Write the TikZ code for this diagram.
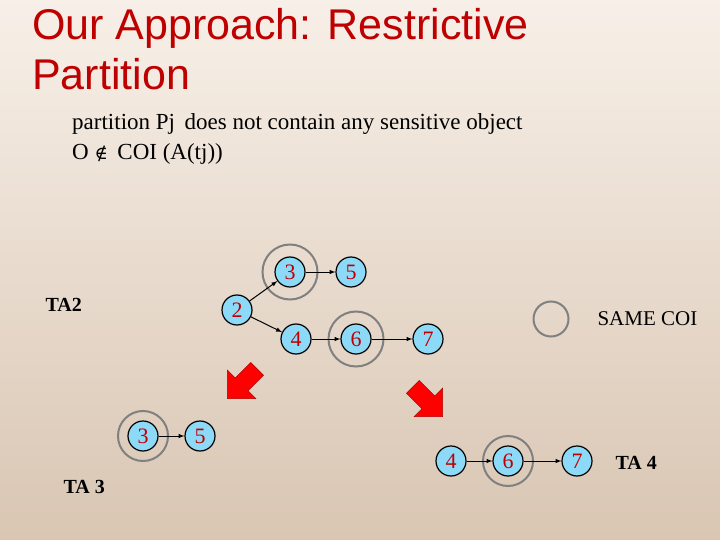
\documentclass[tikz,border=0pt]{standalone}
\usepackage{fontspec}
\setmainfont{Liberation Serif}
\newfontfamily\titlefont{Liberation Sans}
\newfontfamily\symfont{DejaVu Serif}
\begin{document}
\begin{tikzpicture}[x=1pt,y=-1pt,
  nd/.style={circle,draw=black,line width=1.2pt,fill=cyan!45!white,minimum size=30pt,inner sep=0pt,text=red!75!black,font=\fontsize{22}{22}\selectfont},
  ring/.style={circle,draw=gray,line width=2pt,minimum size=#1,inner sep=0pt},
  ed/.style={-latex,line width=1pt},
  lbl/.style={font=\bfseries\fontsize{20}{20}\selectfont,anchor=west},
  blk/.style={fill=red,draw=red!70!black,line width=0.5pt}]
\shade[top color=white!80!brown!60,bottom color=brown!35!white!85!gray] (0,0) rectangle (720,540);
\useasboundingbox (0,0) rectangle (720,540);
\node[anchor=north west,align=left,text=red!75!black,font=\titlefont\fontsize{43}{50}\selectfont,inner sep=0pt] (t) at (32,8) {Our Approach: Restrictive\\Partition};
\node[anchor=north west,align=left,font=\fontsize{23}{30}\selectfont,inner sep=0pt] (s) at (72,113) {partition Pj\, does not contain any sensitive object\\O {\symfont\fontsize{18}{18}\selectfont ∉}\, COI (A(tj))};
% top graph
\node[nd] (n2) at (237,310) {2};
\node[nd] (n3) at (290,272) {3};
\node[nd] (n5) at (351,272) {5};
\node[nd] (n4) at (296,339) {4};
\node[nd] (n6) at (356,339) {6};
\node[nd] (n7) at (428,339) {7};
\node[ring=55pt] (r3) at (n3) {};
\node[ring=55pt] (r6) at (n6) {};
\draw[ed] (n2) -- (n3); \draw[ed] (n2) -- (n4);
\draw[ed] (n3) -- (n5); \draw[ed] (n4) -- (n6); \draw[ed] (n6) -- (n7);
\node[lbl] (ta2) at (42,305) {TA2};
\node[ring=35pt] (leg) at (551,319) {};
\node[font=\fontsize{21}{21}\selectfont,anchor=west] (same) at (594,319) {SAME COI};
% bottom left
\node[nd] (b3) at (143,436) {3};
\node[nd] (b5) at (200,436) {5};
\node[ring=50pt] (rb3) at (b3) {};
\draw[ed] (b3) -- (b5);
\node[lbl] (ta3) at (60,487) {TA 3};
% bottom right
\node[nd] (c4) at (451,461) {4};
\node[nd] (c6) at (508,461) {6};
\node[nd] (c7) at (577,461) {7};
\node[ring=50pt] (rc6) at (c6) {};
\draw[ed] (c4) -- (c6); \draw[ed] (c6) -- (c7);
\node[lbl] (ta4) at (612,463) {TA 4};
% block arrows
\draw[blk,shift={(243,383)},rotate=225] (-20,-9) -- (2,-9) -- (2,-20) -- (22,0) -- (2,20) -- (2,9) -- (-20,9) -- cycle;
\draw[blk,shift={(427,401)},rotate=-45] (-20,-9) -- (2,-9) -- (2,-20) -- (22,0) -- (2,20) -- (2,9) -- (-20,9) -- cycle;
\end{tikzpicture}
\end{document}
